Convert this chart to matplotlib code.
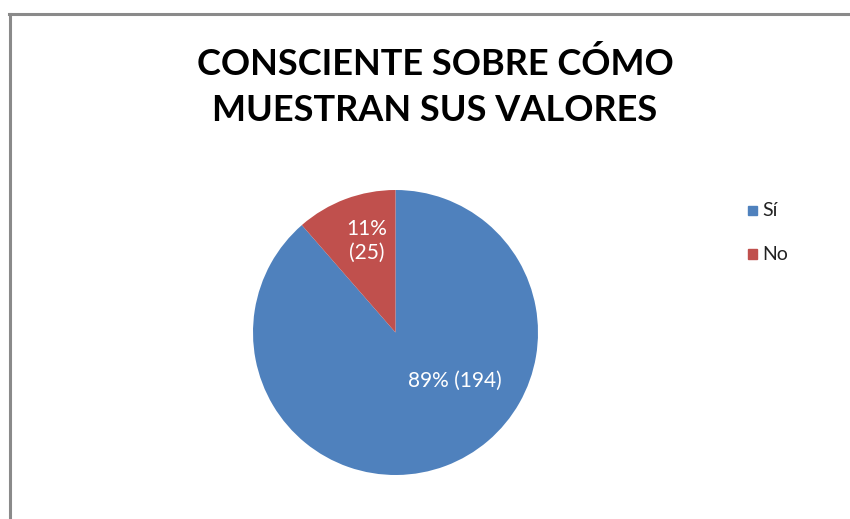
import matplotlib
matplotlib.use("Agg")
import matplotlib.pyplot as plt
from matplotlib.lines import Line2D

plt.rcParams["font.family"] = ["Lato", "DejaVu Sans"]

title = "CONSCIENTE SOBRE CÓMO\nMUESTRAN SUS VALORES"
categories = ["Sí", "No"]
counts = [194, 25]
colors = ["#4F81BD", "#C0504D"]

W, H = 850, 519
fig = plt.figure(figsize=(W / 100, H / 100), dpi=100)
fig.patch.set_facecolor("white")

# chart frame: only top and left edges fall inside the image
fig.add_artist(Line2D([9.5 / W, 9.5 / W], [0, 1 - 13.5 / H], transform=fig.transFigure,
                      color="#8a8a8a", lw=2.2))
fig.add_artist(Line2D([8.5 / W, 1], [1 - 13.5 / H, 1 - 13.5 / H], transform=fig.transFigure,
                      color="#8a8a8a", lw=2.2))

fig.text(435 / W, 1 - 87 / H, title, ha="center", va="center", fontsize=26,
         fontweight="bold", linespacing=1.5, color="black")

# pie axes, centre (395.5, 332.5) px, radius 142.5 px
cx, cy, r = 395.5, 332.5, 142.5
ax = fig.add_axes([(cx - r) / W, 1 - (cy + r) / H, 2 * r / W, 2 * r / H])
wedges, _ = ax.pie(counts, colors=colors, startangle=90, counterclock=False, radius=1,
                   wedgeprops=dict(linewidth=0))
ax.set_xlim(-1, 1)
ax.set_ylim(-1, 1)
ax.set_aspect("auto")
ax.axis("off")

total = sum(counts)
pcts = [round(100 * c / total) for c in counts]
label_pos = [((455 - cx) / r, (cy - 381) / r, " "), ((367 - cx) / r, (cy - 241) / r, "\n")]
for (x, y, sep), p, c in zip(label_pos, pcts, counts):
    ax.text(x, y, f"{p}%{sep}({c})", ha="center", va="center", fontsize=15,
            color="white", linespacing=1.25)

# legend
for i, (name, col) in enumerate(zip(categories, colors)):
    y = 1 - (211 + 43 * i) / H
    fig.patches.append(plt.Rectangle((748 / W, y - 4.5 / H), 9 / W, 9 / H,
                                     transform=fig.transFigure, color=col, figure=fig))
    fig.text(762 / W, y, name, ha="left", va="center", fontsize=14, color="#222222")

fig.savefig("out.png", dpi=100)
